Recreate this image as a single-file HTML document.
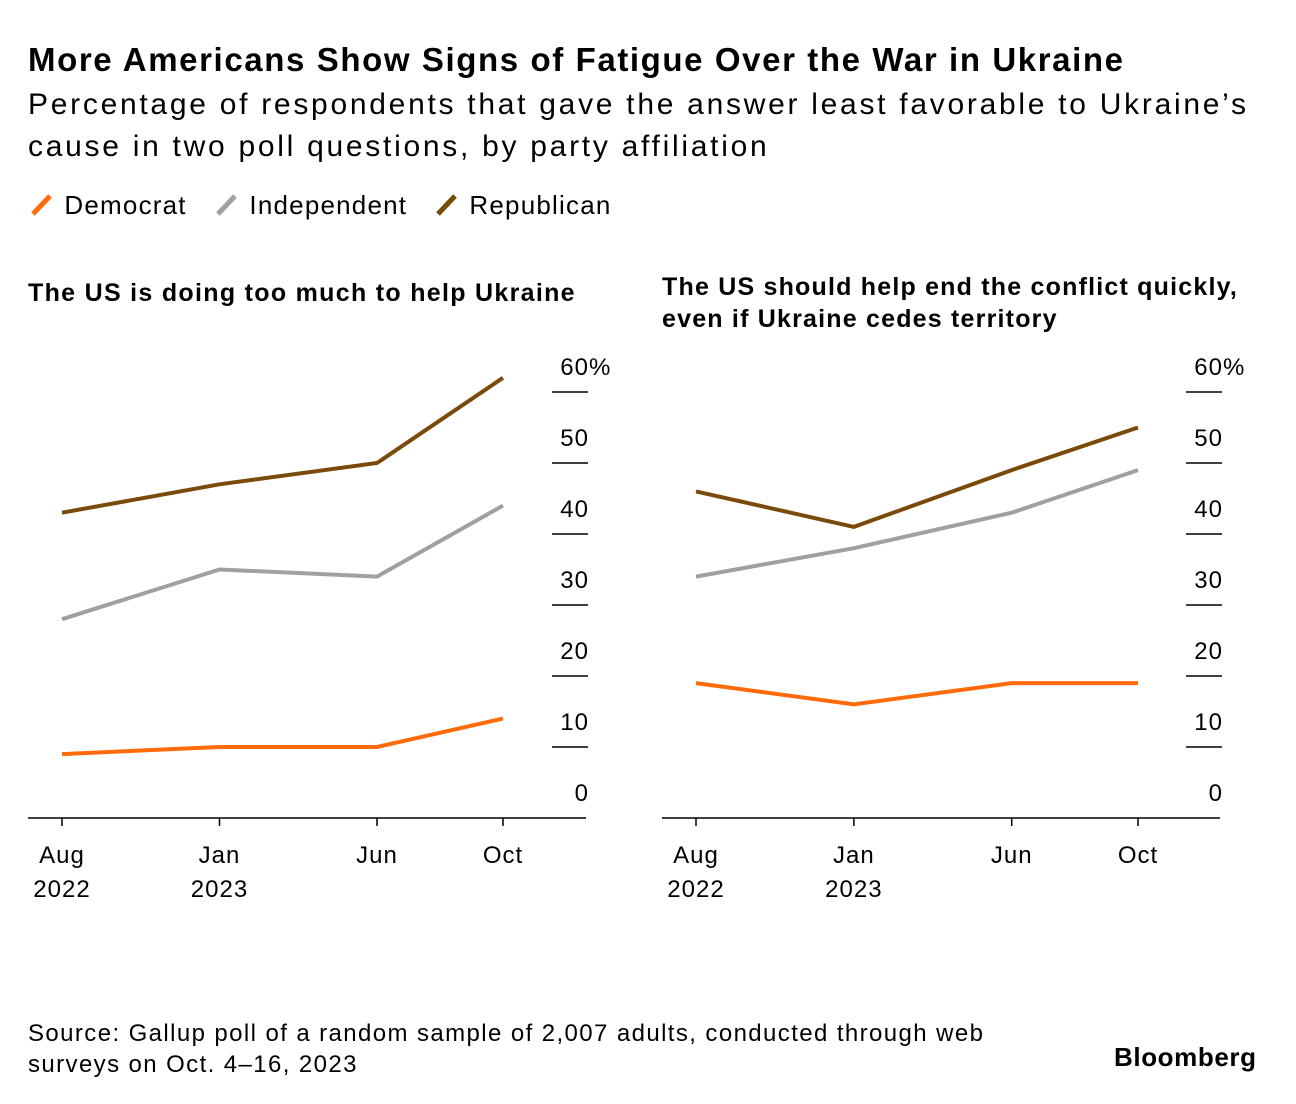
<!DOCTYPE html>
<html><head><meta charset="utf-8">
<style>
body{margin:0;background:#fff;font-family:"Liberation Sans",sans-serif;color:#000}
.t{position:absolute;white-space:nowrap}
</style></head>
<body>
<div style="position:relative;width:1296px;height:1104px;overflow:hidden">
<div class="t" style="left:28px;top:41px;font-size:33px;font-weight:bold;letter-spacing:1.6px">More Americans Show Signs of Fatigue Over the War in Ukraine</div>
<div class="t" style="left:28px;top:84px;font-size:30px;line-height:42px;letter-spacing:2.72px">Percentage of respondents that gave the answer least favorable to Ukraine’s<br>cause in two poll questions, by party affiliation</div>
<div class="t" style="left:28px;top:190px;font-size:26px;letter-spacing:1.2px"><svg width="28" height="28" style="vertical-align:-4px"><line x1="5" y1="24" x2="22" y2="6" stroke="#ff6b0a" stroke-width="5"/></svg> Democrat</div>
<div class="t" style="left:213px;top:190px;font-size:26px;letter-spacing:1.2px"><svg width="28" height="28" style="vertical-align:-4px"><line x1="5" y1="24" x2="22" y2="6" stroke="#a0a0a0" stroke-width="5"/></svg> Independent</div>
<div class="t" style="left:433px;top:190px;font-size:26px;letter-spacing:1.2px"><svg width="28" height="28" style="vertical-align:-4px"><line x1="5" y1="24" x2="22" y2="6" stroke="#7a4a0a" stroke-width="5"/></svg> Republican</div>
<div class="t" style="left:28px;top:279px;font-size:25px;font-weight:bold;letter-spacing:1.3px">The US is doing too much to help Ukraine</div>
<div class="t" style="left:662px;top:271px;font-size:25px;font-weight:bold;line-height:32px;letter-spacing:1.2px">The US should help end the conflict quickly,<br>even if Ukraine cedes territory</div>
<svg id="svg" width="1296" height="1104" style="position:absolute;left:0;top:0"></svg>
<div class="t" style="left:28px;top:1018px;font-size:24px;line-height:31px;letter-spacing:1.4px">Source: Gallup poll of a random sample of 2,007 adults, conducted through web<br>surveys on Oct. 4–16, 2023</div>
<div class="t" style="left:1114px;top:1042px;font-size:26px;font-weight:bold;letter-spacing:0.6px">Bloomberg</div>
</div>
<script>
const months=[0,5,10,14];
const monthLabels=[["Aug","2022"],["Jan","2023"],["Jun",""],["Oct",""]];
const yTicks=[0,10,20,30,40,50,60];
const seriesNames=["democrat","independent","republican"];
const colors=["#ff6b0a","#a0a0a0","#7a4a0a"];
const leftDem=[9,10,10,14];
const leftInd=[28,35,34,44];
const leftRep=[43,47,50,62];
const rightDem=[19,16,19,19];
const rightInd=[34,38,43,49];
const rightRep=[46,41,49,55];
const svg=document.getElementById('svg');
const NS="http://www.w3.org/2000/svg";
function mk(tag,attrs){const e=document.createElementNS(NS,tag);for(const k in attrs)e.setAttribute(k,attrs[k]);return e;}
function panel(name,x0,x1,axL,axR,tickX,data){
  const xs=m=>x0+(x1-x0)*m/14;
  const ys=v=>818-v*7.1;
  const g=mk('g',{});
  
  
  svg.appendChild(g);
  yTicks.forEach(v=>{
    if(v>0){const l=mk('line',{x1:tickX,x2:tickX+36,y1:ys(v),y2:ys(v),stroke:'#000','stroke-width':1.5});
    
    
    g.appendChild(l);}
    const t=mk('text',{x:tickX+37,y:ys(v)-17,'text-anchor':'end','font-size':24,'letter-spacing':1,'font-family':'Liberation Sans, sans-serif'});
    t.textContent=String(v);
    
    
    g.appendChild(t);
    if(v===60){const p=mk('text',{x:tickX+37,y:ys(v)-17,'font-size':24,'font-family':'Liberation Sans, sans-serif'});p.textContent='%';
    
    
    g.appendChild(p);}
  });
  const ax=mk('line',{x1:axL,x2:axR,y1:818,y2:818,stroke:'#000','stroke-width':1.5});
  
  
  g.appendChild(ax);
  months.forEach((m,i)=>{
    const tk=mk('line',{x1:xs(m),x2:xs(m),y1:818,y2:826,stroke:'#000','stroke-width':1.5});
    
    
    g.appendChild(tk);
    monthLabels[i].forEach((s,j)=>{if(!s)return;
      const t=mk('text',{x:xs(m),y:863+j*34,'text-anchor':'middle','font-size':24,'letter-spacing':1,'font-family':'Liberation Sans, sans-serif'});
      t.textContent=s;
      
      
      g.appendChild(t);});
  });
  data.forEach((vals,si)=>{
    const pts=vals.map((v,i)=>xs(months[i])+','+ys(v)).join(' ');
    const pl=mk('polyline',{points:pts,fill:'none',stroke:colors[si],'stroke-width':4,'stroke-linejoin':'miter'});
    
    
    g.appendChild(pl);
  });
}
panel('left-panel',62,503,28,586,552,[leftDem,leftInd,leftRep]);
panel('right-panel',696,1138,662,1220,1186,[rightDem,rightInd,rightRep]);
</script>
</body></html>
